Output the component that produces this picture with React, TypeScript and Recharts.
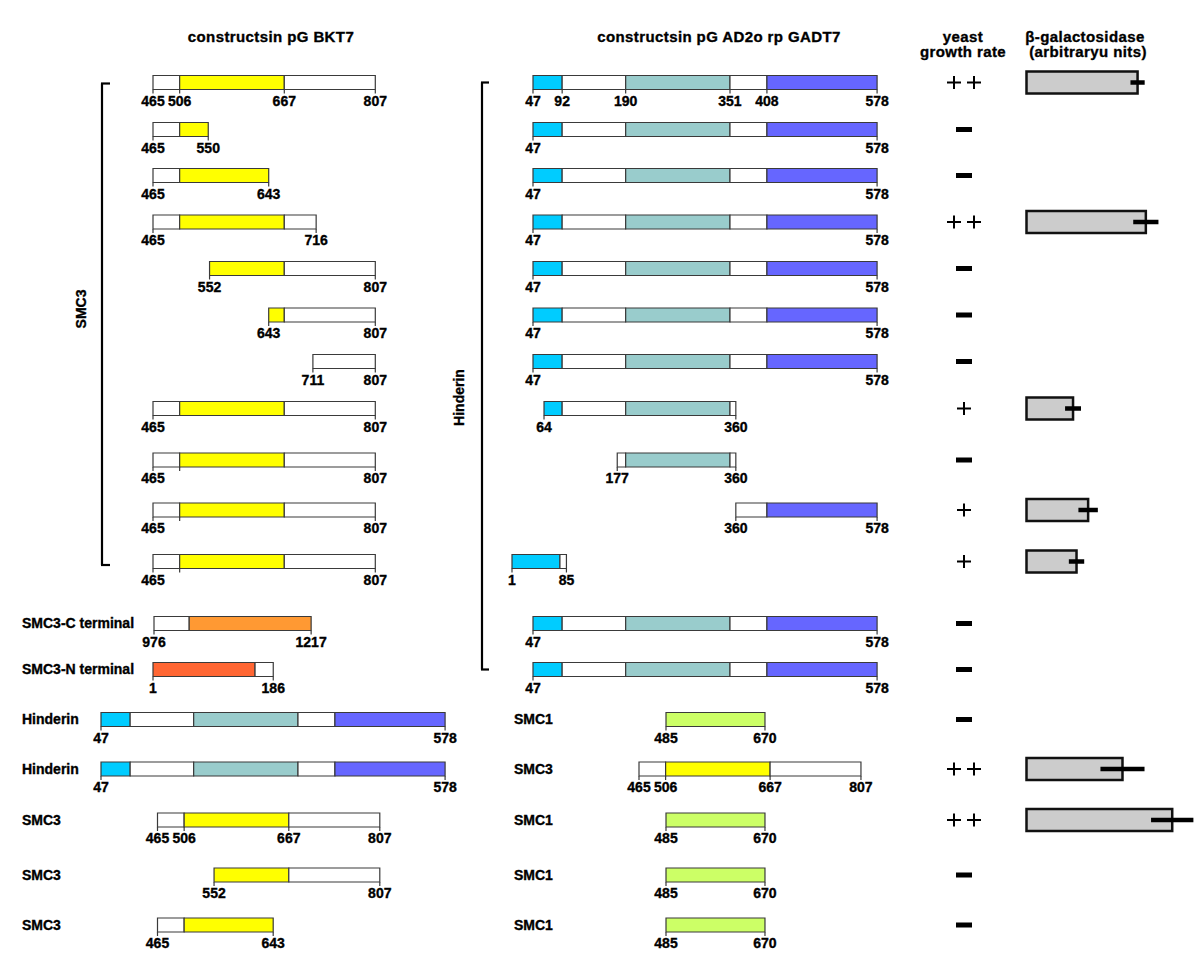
import { ComposedChart, XAxis, YAxis, Scatter, ErrorBar, ReferenceArea, ReferenceLine, ReferenceDot } from 'recharts'

// constructs in pGBKT7 (bait): residue boundaries, one domain per segment
const baitBounds: number[][] = [
  [465, 506, 667, 807],
  [465, 506, 550],
  [465, 506, 643],
  [465, 506, 667, 716],
  [552, 667, 807],
  [643, 667, 807],
  [711, 807],
  [465, 506, 667, 807],
  [465, 506, 667, 807],
  [465, 506, 667, 807],
  [465, 506, 667, 807],
  [976, 1030, 1217],
  [1, 158, 186],
  [47, 92, 190, 351, 408, 578],
  [47, 92, 190, 351, 408, 578],
  [465, 506, 667, 807],
  [552, 667, 807],
  [465, 506, 643],
]
const baitDomains: string[][] = [
  ['plain', 'hinge', 'plain'],
  ['plain', 'hinge'],
  ['plain', 'hinge'],
  ['plain', 'hinge', 'plain'],
  ['hinge', 'plain'],
  ['hinge', 'plain'],
  ['plain'],
  ['plain', 'hinge', 'plain'],
  ['plain', 'hinge', 'plain'],
  ['plain', 'hinge', 'plain'],
  ['plain', 'hinge', 'plain'],
  ['plain', 'smc3C'],
  ['smc3N', 'plain'],
  ['hindN', 'plain', 'hindMid', 'plain', 'hindC'],
  ['hindN', 'plain', 'hindMid', 'plain', 'hindC'],
  ['plain', 'hinge', 'plain'],
  ['hinge', 'plain'],
  ['plain', 'hinge'],
]
const baitLabels: number[][] = [
  [465, 506, 667, 807],
  [465, 550],
  [465, 643],
  [465, 716],
  [552, 807],
  [643, 807],
  [711, 807],
  [465, 807],
  [465, 807],
  [465, 807],
  [465, 807],
  [976, 1217],
  [1, 186],
  [47, 578],
  [47, 578],
  [465, 506, 667, 807],
  [552, 807],
  [465, 643],
]
const baitExtraTicks: number[][] = [[], [], [], [], [], [], [], [], [506], [506], [506], [], [], [], [], [], [], []]
const baitNames = ['', '', '', '', '', '', '', '', '', '', '', 'SMC3-C terminal', 'SMC3-N terminal', 'Hinderin', 'Hinderin', 'SMC3', 'SMC3', 'SMC3']

// constructs in pGADT7 (prey)
const hinderinFull = [47, 92, 190, 351, 408, 578]
const hinderinDomains = ['hindN', 'plain', 'hindMid', 'plain', 'hindC']
const preyBounds: number[][] = [
  hinderinFull, hinderinFull, hinderinFull, hinderinFull, hinderinFull, hinderinFull, hinderinFull,
  [64, 92, 190, 351, 360],
  [177, 190, 351, 360],
  [360, 408, 578],
  [1, 75, 85],
  hinderinFull, hinderinFull,
  [485, 670],
  [465, 506, 667, 807],
  [485, 670],
  [485, 670],
  [485, 670],
]
const preyDomains: string[][] = [
  hinderinDomains, hinderinDomains, hinderinDomains, hinderinDomains, hinderinDomains, hinderinDomains, hinderinDomains,
  ['hindN', 'plain', 'hindMid', 'plain'],
  ['plain', 'hindMid', 'plain'],
  ['plain', 'hindC'],
  ['hindN', 'plain'],
  hinderinDomains, hinderinDomains,
  ['smc1'],
  ['plain', 'hinge', 'plain'],
  ['smc1'],
  ['smc1'],
  ['smc1'],
]
const preyLabels: number[][] = [
  [47, 92, 190, 351, 408, 578],
  [47, 578], [47, 578], [47, 578], [47, 578], [47, 578], [47, 578],
  [64, 360],
  [177, 360],
  [360, 578],
  [1, 85],
  [47, 578], [47, 578],
  [485, 670],
  [465, 506, 667, 807],
  [485, 670], [485, 670], [485, 670],
]
const preyNames = ['', '', '', '', '', '', '', '', '', '', '', '', '', 'SMC1', 'SMC3', 'SMC1', 'SMC1', 'SMC1']

const growth = ['++', '-', '-', '++', '-', '-', '-', '+', '-', '+', '+', '-', '-', '-', '++', '++', '-', '-']
const betaGal = [76.6, null, null, 82.3, null, null, null, 32.1, null, 42.5, 34.5, null, null, null, 66.2, 100.5, null, null]
const betaGalErr = [4.9, null, null, 8.7, null, null, null, 5.5, null, 6.7, 5.3, null, null, null, 15.2, 14.6, null, null]

// ---- layout ----
const W = 1200
const H = 977
const ROW_Y = [82.5, 129.5, 175.5, 222, 268.5, 315, 361.5, 408.5, 460, 510, 561.5, 623.5, 669.5, 719.5, 769, 820, 875, 925]
const BAR_H = 14
const FONT = '"Liberation Sans", Arial, Helvetica, sans-serif'
const OUTLINE = '#3a3a3a'
const DOMAIN_FILL: Record<string, string> = {
  plain: '#ffffff',
  hinge: '#ffff00',
  smc3C: '#ff9933',
  smc3N: '#ff6633',
  hindN: '#00ccff',
  hindMid: '#99cccc',
  hindC: '#6666ff',
  smc1: '#ccff66',
}

// one hidden residue axis per drawing track: residue `ref` sits at `at`, k px per residue
const SCALES: Record<string, { ref: number; at: number; k: number }> = {
  b: { ref: 465, at: 153, k: 0.65 },
  bC: { ref: 976, at: 154, k: 0.652 },
  bN: { ref: 1, at: 153, k: 0.65 },
  bH: { ref: 47, at: 101, k: 0.648 },
  bS: { ref: 465, at: 157.5, k: 0.65 },
  pH: { ref: 47, at: 533, k: 0.648 },
  pH1: { ref: 1, at: 512, k: 0.648 },
  pS3: { ref: 465, at: 639, k: 0.649 },
  pS1: { ref: 485, at: 666, k: 0.535 },
  gal: { ref: 0, at: 1026.5, k: 1.45 },
}
const baitScale = ['b', 'b', 'b', 'b', 'b', 'b', 'b', 'b', 'b', 'b', 'b', 'bC', 'bN', 'bH', 'bH', 'bS', 'bS', 'bS']
const preyScale = ['pH', 'pH', 'pH', 'pH', 'pH', 'pH', 'pH', 'pH', 'pH', 'pH', 'pH1', 'pH', 'pH', 'pS1', 'pS3', 'pS1', 'pS1', 'pS1']

const axisDomain = (s: { ref: number; at: number; k: number }): [number, number] => [s.ref - s.at / s.k, s.ref + (W - s.at) / s.k]

const label = (value: string, extra: Record<string, unknown> = {}) => ({
  value,
  position: 'center',
  offset: 0,
  fill: '#000',
  stroke: '#000',
  strokeWidth: 0.35,
  fontSize: 14,
  fontWeight: 700,
  fontFamily: FONT,
  ...extra,
})

function construct(prefix: string, axis: string, y: number, bounds: number[], domains: string[], labels: number[], extraTicks: number[]) {
  const els = []
  domains.forEach((d, i) => {
    els.push(
      <ReferenceArea
        key={`${prefix}-seg-${i}`}
        xAxisId={axis}
        x1={bounds[i]}
        x2={bounds[i + 1]}
        y1={y - BAR_H / 2}
        y2={y + BAR_H / 2}
        fill={DOMAIN_FILL[d]}
        fillOpacity={1}
        stroke={OUTLINE}
        strokeWidth={1.2}
        ifOverflow="visible"
      />
    )
  })
  ;[...labels, ...extraTicks].forEach((t, i) => {
    els.push(
      <ReferenceLine
        key={`${prefix}-tick-${i}`}
        xAxisId={axis}
        segment={[{ x: t, y: y + BAR_H / 2 }, { x: t, y: y + BAR_H / 2 + 4 }]}
        stroke={OUTLINE}
        strokeWidth={1.2}
        ifOverflow="visible"
      />
    )
  })
  return els
}

// residue numbers under the bars, grouped by the axis they belong to
const residuePoints: Record<string, { x: number; y: number; t: string }[]> = {}
const addPoints = (axes: string[], labels: number[][]) => {
  labels.forEach((row, i) => {
    const id = axes[i]
    if (!residuePoints[id]) residuePoints[id] = []
    row.forEach((v) => residuePoints[id].push({ x: v, y: ROW_Y[i] + 18.5, t: String(v) }))
  })
}
addPoints(baitScale, baitLabels)
addPoints(preyScale, preyLabels)

function ResidueText(props: any) {
  const { cx, cy, payload } = props
  return (
    <text x={cx} y={cy} dy="0.355em" textAnchor="middle" fontSize={14} fontWeight={700} fontFamily={FONT}
      fill="#000" stroke="#000" strokeWidth={0.35}>
      {payload.t}
    </text>
  )
}

function GrowthMark(props: any) {
  const { cx, cy, payload } = props
  if (payload.g === '-') {
    return <rect x={cx - 8} y={cy - 2.5} width={16} height={5} fill="#000" />
  }
  const plus = (px: number, k: string) => (
    <path key={k} d={`M${px - 7},${cy}H${px + 7}M${px},${cy - 6.5}V${cy + 6.5}`} stroke="#000" strokeWidth={2} fill="none" />
  )
  if (payload.g === '+') return <g>{plus(cx, 'a')}</g>
  return <g>{plus(cx - 10, 'a')}{plus(cx + 10, 'b')}</g>
}

const NoShape = () => <g />

export default function App() {
  const growthPoints = growth.map((g, i) => ({ x: 964, y: ROW_Y[i], g }))
  const galPoints = betaGal
    .map((v, i) => (v == null ? null : { x: v, y: ROW_Y[i], err: betaGalErr[i] }))
    .filter((p) => p !== null)
  const leftTop = ROW_Y[0] + 1
  const leftBottom = ROW_Y[10] + 3.5
  const midTop = ROW_Y[0]
  const midBottom = ROW_Y[12]

  const headers: [string, number, number][] = [
    ['constructsin pG BKT7', 271, 37],
    ['constructsin pG AD2o rp GADT7', 719, 37],
    ['yeast', 963, 37],
    ['growth rate', 963, 52],
    ['β-galactosidase', 1085, 37],
    ['(arbitraryu nits)', 1088, 52],
  ]

  return (
    <div style={{ position: 'absolute', left: 0, top: 0, background: '#fff' }}>
      <ComposedChart width={W} height={H} margin={{ top: 0, right: 0, bottom: 0, left: 0 }}>
        <XAxis xAxisId="px" dataKey="x" type="number" domain={[0, W]} allowDataOverflow hide />
        {Object.entries(SCALES).map(([id, s]) => (
          <XAxis key={id} xAxisId={id} dataKey="x" type="number" domain={axisDomain(s)} allowDataOverflow hide />
        ))}
        <YAxis dataKey="y" type="number" domain={[0, H]} reversed allowDataOverflow hide />

        {headers.map(([t, x, y]) => (
          <ReferenceDot key={`h-${t}`} xAxisId="px" x={x} y={y} r={0} fill="none" stroke="none" ifOverflow="visible"
            label={label(t, { fontSize: 15, letterSpacing: 0.4 })} />
        ))}

        {/* brackets */}
        <ReferenceLine xAxisId="px" segment={[{ x: 102, y: leftTop }, { x: 102, y: leftBottom }]} stroke="#000" strokeWidth={2.2} ifOverflow="visible" />
        <ReferenceLine xAxisId="px" segment={[{ x: 101, y: leftTop }, { x: 110, y: leftTop }]} stroke="#000" strokeWidth={2.2} ifOverflow="visible" />
        <ReferenceLine xAxisId="px" segment={[{ x: 101, y: leftBottom }, { x: 110, y: leftBottom }]} stroke="#000" strokeWidth={2.2} ifOverflow="visible" />
        <ReferenceLine xAxisId="px" segment={[{ x: 482, y: midTop }, { x: 482, y: midBottom }]} stroke="#000" strokeWidth={2.2} ifOverflow="visible" />
        <ReferenceLine xAxisId="px" segment={[{ x: 481, y: midTop }, { x: 489, y: midTop }]} stroke="#000" strokeWidth={2.2} ifOverflow="visible" />
        <ReferenceLine xAxisId="px" segment={[{ x: 481, y: midBottom }, { x: 489, y: midBottom }]} stroke="#000" strokeWidth={2.2} ifOverflow="visible" />
        <ReferenceDot xAxisId="px" x={81} y={309} r={0} fill="none" stroke="none" ifOverflow="visible" label={label('SMC3', { angle: -90 })} />
        <ReferenceDot xAxisId="px" x={459.5} y={397.5} r={0} fill="none" stroke="none" ifOverflow="visible" label={label('Hinderin', { angle: -90 })} />

        {baitNames.map((n, i) =>
          n ? (
            <ReferenceDot key={`bn-${i}`} xAxisId="px" x={22} y={ROW_Y[i]} r={0} fill="none" stroke="none" ifOverflow="visible"
              label={label(n, { position: 'right' })} />
          ) : null
        )}
        {preyNames.map((n, i) =>
          n ? (
            <ReferenceDot key={`pn-${i}`} xAxisId="px" x={514} y={ROW_Y[i]} r={0} fill="none" stroke="none" ifOverflow="visible"
              label={label(n, { position: 'right' })} />
          ) : null
        )}

        {baitBounds.map((b, i) => construct(`b${i}`, baitScale[i], ROW_Y[i], b, baitDomains[i], baitLabels[i], baitExtraTicks[i]))}
        {preyBounds.map((b, i) => construct(`p${i}`, preyScale[i], ROW_Y[i], b, preyDomains[i], preyLabels[i], []))}

        {betaGal.map((v, i) =>
          v == null ? null : (
            <ReferenceArea key={`g-${i}`} xAxisId="gal" x1={0} x2={v} y1={ROW_Y[i] - 11} y2={ROW_Y[i] + 11}
              fill="#cccccc" fillOpacity={1} stroke="#111" strokeWidth={2.5} ifOverflow="visible" />
          )
        )}

        {Object.entries(residuePoints).map(([id, pts]) => (
          <Scatter key={`r-${id}`} xAxisId={id} data={pts} shape={<ResidueText />} isAnimationActive={false} />
        ))}
        <Scatter xAxisId="gal" data={galPoints} shape={<NoShape />} isAnimationActive={false}>
          <ErrorBar dataKey="err" direction="x" width={0} stroke="#000" strokeWidth={4.5} isAnimationActive={false} />
        </Scatter>
        <Scatter xAxisId="px" data={growthPoints} shape={<GrowthMark />} isAnimationActive={false} />
      </ComposedChart>
    </div>
  )
}
